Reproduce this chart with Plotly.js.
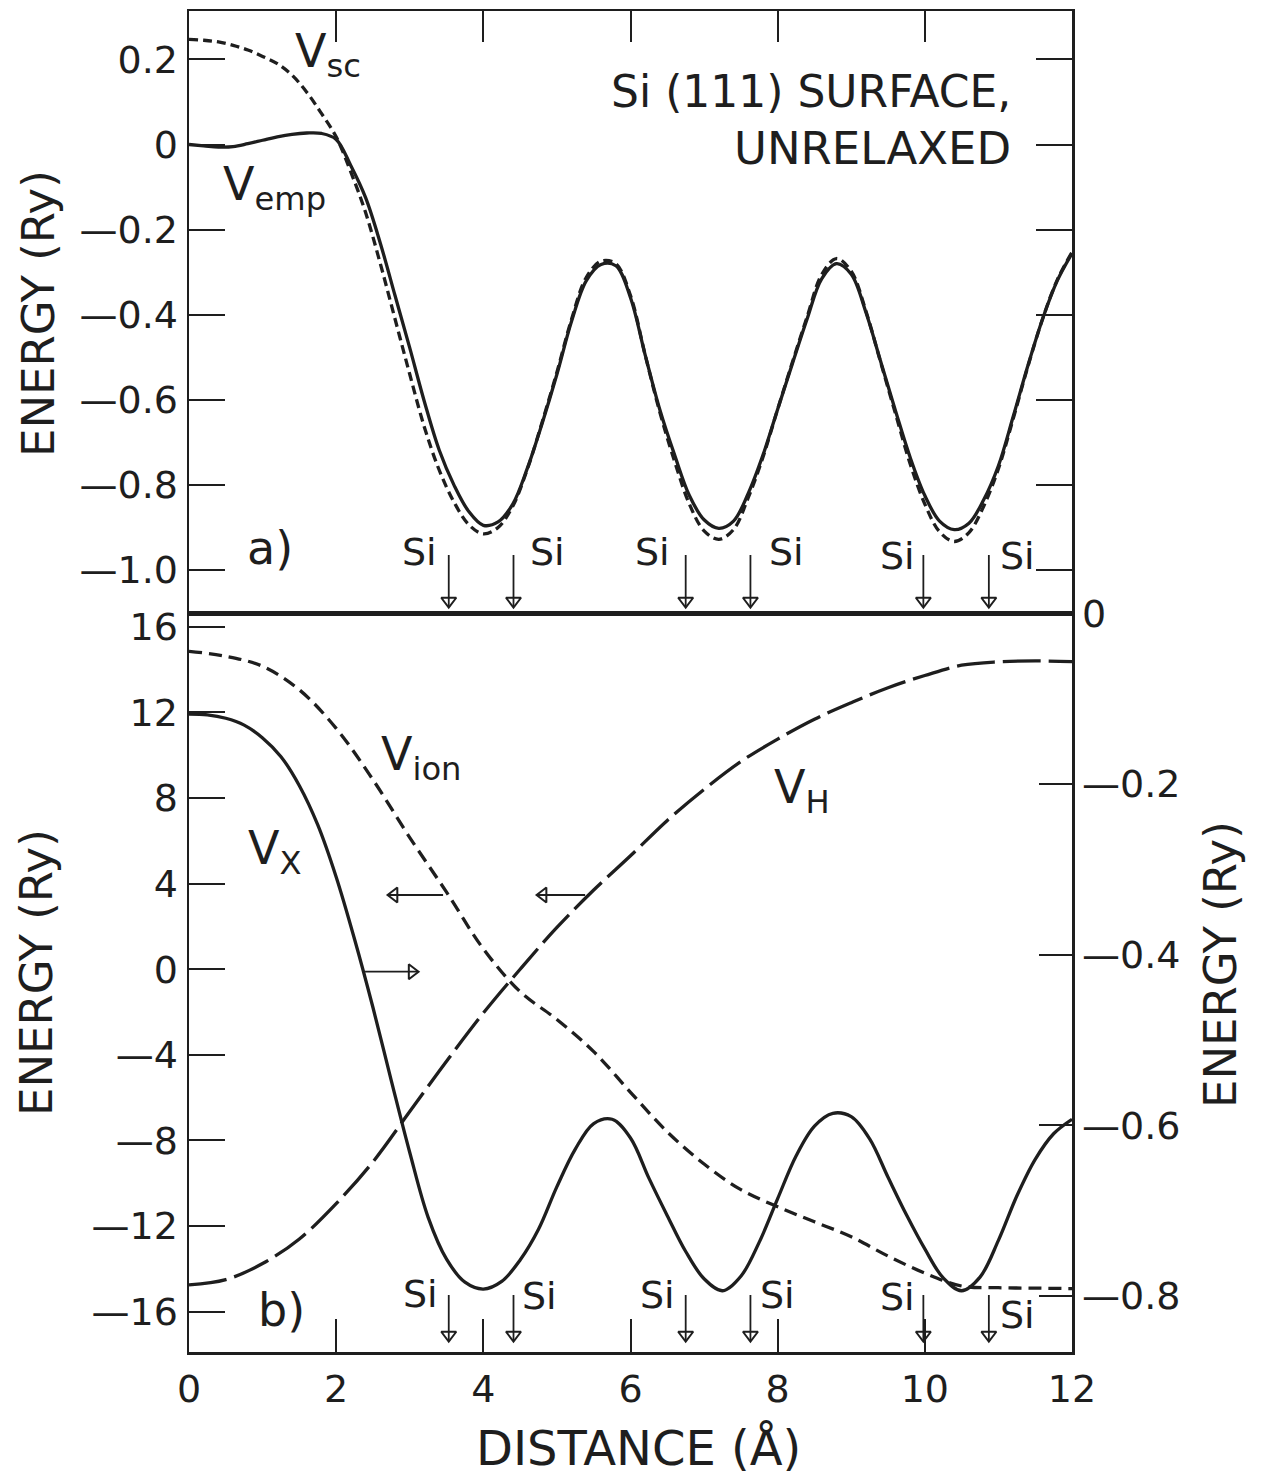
<!DOCTYPE html>
<html><head><meta charset="utf-8">
<script src="https://cdn.plot.ly/plotly-3.0.1.min.js"></script>
<style>html,body{margin:0;padding:0;background:#fff}</style>
</head><body>
<div id="chart" style="width:1266px;height:1480px"></div>
<script>
// ---------- data ----------
const X_A = [0,0.2,0.4,0.6,0.8,1,1.2,1.4,1.6,1.8,2,2.2,2.4,2.6,2.8,3,3.2,3.4,3.6,3.8,4,4.2,4.4,4.6,4.8,5,5.2,5.4,5.6,5.8,6,6.2,6.4,6.6,6.8,7,7.2,7.4,7.6,7.8,8,8.2,8.4,8.6,8.8,9,9.2,9.4,9.6,9.8,10,10.2,10.4,10.6,10.8,11,11.2,11.4,11.6,11.8,12];
const V_EMP = [0.000,-0.003,-0.006,-0.005,0.002,0.010,0.018,0.024,0.027,0.026,0.012,
  -0.050,-0.125,-0.232,-0.355,-0.478,-0.605,-0.718,-0.800,-0.862,-0.895,
  -0.887,-0.845,-0.760,-0.655,-0.540,-0.415,-0.320,-0.282,-0.285,-0.360,
  -0.495,-0.624,-0.730,-0.825,-0.882,-0.902,-0.885,-0.820,-0.730,-0.622,
  -0.515,-0.410,-0.315,-0.280,-0.305,-0.395,-0.510,-0.625,-0.735,-0.825,
  -0.885,-0.905,-0.890,-0.835,-0.755,-0.640,-0.520,-0.410,-0.320,-0.256];
const V_SC = [0.247,0.245,0.241,0.233,0.222,0.207,0.190,0.163,0.123,0.073,0.018,
  -0.065,-0.160,-0.280,-0.410,-0.540,-0.665,-0.765,-0.840,-0.893,-0.915,
  -0.900,-0.850,-0.762,-0.652,-0.535,-0.410,-0.312,-0.274,-0.280,-0.355,
  -0.495,-0.630,-0.745,-0.845,-0.908,-0.928,-0.905,-0.830,-0.735,-0.622,
  -0.512,-0.405,-0.305,-0.268,-0.298,-0.392,-0.512,-0.632,-0.750,-0.845,
  -0.910,-0.933,-0.912,-0.850,-0.762,-0.645,-0.522,-0.410,-0.318,-0.253];

const X_B = [0,0.5,1,1.5,2,2.5,3,3.5,4,4.5,5,5.5,6,6.5,7,7.5,8,8.5,9,9.5,10,10.5,11,11.5,12];
const V_ION = [14.85,14.62,14.15,13.05,11.25,8.85,6.15,3.6,0.95,-1.05,-2.35,-3.85,-5.75,-7.6,-9.1,-10.3,-11.1,-11.8,-12.5,-13.4,-14.2,-14.8,-14.88,-14.9,-14.92];
const V_HARTREE = [-14.75,-14.5,-13.75,-12.6,-10.95,-9.0,-6.65,-4.3,-2.05,0.0,1.95,3.7,5.3,6.95,8.4,9.7,10.75,11.68,12.45,13.15,13.72,14.2,14.36,14.4,14.37];

const X_X = [0,0.25,0.5,0.75,1,1.25,1.5,1.75,2,2.25,2.5,2.75,3,3.25,3.5,3.75,4,4.25,4.5,4.75,5,5.25,5.5,5.75,6,6.25,6.5,6.75,7,7.25,7.5,7.75,8,8.25,8.5,8.75,9,9.25,9.5,9.75,10,10.25,10.5,10.75,11,11.25,11.5,11.75,12];
const V_XC = [-0.118,-0.119,-0.123,-0.131,-0.146,-0.168,-0.202,-0.248,-0.309,
  -0.382,-0.462,-0.548,-0.632,-0.708,-0.757,-0.784,-0.792,
  -0.783,-0.758,-0.722,-0.672,-0.628,-0.598,-0.593,-0.615,
  -0.662,-0.706,-0.748,-0.780,-0.794,-0.777,-0.737,-0.686,
  -0.636,-0.601,-0.586,-0.590,-0.616,-0.661,-0.705,-0.745,
  -0.779,-0.794,-0.778,-0.735,-0.683,-0.640,-0.610,-0.593];

const SI_POS = [3.53, 4.41, 6.75, 7.63, 9.98, 10.87];
const SI_LABEL = 'Si';

const X_TICKS = [0,2,4,6,8,10,12];
const X_TICKTEXT = ['0','2','4','6','8','10','12'];
const TOP_X_TICKS = [2,4,6,8,10];
const TOP_TICKS = [0.2,0,-0.2,-0.4,-0.6,-0.8,-1.0];
const TOP_TICKTEXT = ['0.2','0','\u20140.2','\u20140.4','\u20140.6','\u20140.8','\u20141.0'];
const LEFT_TICKS = [16,12,8,4,0,-4,-8,-12,-16];
const LEFT_TICKTEXT = ['16','12','8','4','0','\u20144','\u20148','\u201412','\u201416'];
const RIGHT_TICKS = [0,-0.2,-0.4,-0.6,-0.8];
const RIGHT_TICKTEXT = ['0','\u20140.2','\u20140.4','\u20140.6','\u20140.8'];
const RIGHT_MINOR_TICKS = [-0.1,-0.3,-0.5,-0.7];

const TITLE_Y = 'ENERGY (Ry)';
const TITLE_X = 'DISTANCE (\u00C5)';
const PANEL_TEXT = ['Si (111) SURFACE,', 'UNRELAXED'];

// ---------- style ----------
const INK = '#1e1e1e';
const FONT = '"DejaVu Sans", sans-serif';
const LW = 3.3;

// frame geometry (pixels)
const W = 1266, H = 1480;
const L = 189, R = 1072, T = 11, MID = 613, B = 1352;
const plotH = B - T;
const splitFrac = (B - MID) / plotH;
// pixel -> axis value helpers (calibrated on the reference ticks)
const pyTop = (py) => (144.5 - py) / 425.5;
const pyLeft = (py) => (969.2 - py) / 21.406;
const pxX = (px) => (px - L) / 73.56;
const RIGHT_RANGE = [-(B - 612.6) / 854, 0.0004];

const traces = [
  {x: X_A, y: V_SC, xaxis: 'x2', yaxis: 'y2', mode: 'lines', name: 'Vsc',
   line: {color: INK, width: LW, dash: '9px,5px', shape: 'spline'}},
  {x: X_A, y: V_EMP, xaxis: 'x2', yaxis: 'y2', mode: 'lines', name: 'Vemp',
   line: {color: INK, width: LW, shape: 'spline'}},
  {x: X_B, y: V_ION, xaxis: 'x', yaxis: 'y', mode: 'lines', name: 'Vion',
   line: {color: INK, width: LW, dash: '13px,7px', shape: 'spline'}},
  {x: X_B, y: V_HARTREE, xaxis: 'x', yaxis: 'y', mode: 'lines', name: 'VH',
   line: {color: INK, width: LW, dash: '38px,8px', shape: 'spline'}},
  {x: X_X, y: V_XC, xaxis: 'x', yaxis: 'y3', mode: 'lines', name: 'VX',
   line: {color: INK, width: LW, shape: 'spline'}}
];

// Si position arrows (vertical) drawn as line traces + open triangle heads
function siArrows(xa, ya, tailY, tipY, headY) {
  const lx = [], ly = [], hx = [], hy = [];
  SI_POS.forEach(p => { lx.push(p, p, null); ly.push(tailY, tipY, null); hx.push(p); hy.push(headY); });
  traces.push({x: lx, y: ly, xaxis: xa, yaxis: ya, mode: 'lines', line: {color: INK, width: 1.8}, hoverinfo: 'skip'});
  traces.push({x: hx, y: hy, xaxis: xa, yaxis: ya, mode: 'markers', hoverinfo: 'skip',
    marker: {symbol: 'triangle-down-open', size: 13, color: INK, line: {color: INK, width: 2}}});
}
siArrows('x2', 'y2', pyTop(555), pyTop(607), pyTop(601));
siArrows('x', 'y', pyLeft(1295), pyLeft(1341), pyLeft(1335));

// axis-assignment arrows (horizontal)
function hArrow(pxTail, pxHead, py, sym) {
  const headOff = sym === 'triangle-left-open' ? 6 : -6;
  traces.push({x: [pxX(pxTail), pxX(pxHead)], y: [pyLeft(py), pyLeft(py)], xaxis: 'x', yaxis: 'y',
    mode: 'lines', line: {color: INK, width: 1.8}, hoverinfo: 'skip'});
  traces.push({x: [pxX(pxHead + headOff)], y: [pyLeft(py)], xaxis: 'x', yaxis: 'y', mode: 'markers', hoverinfo: 'skip',
    marker: {symbol: sym, size: 13, color: INK, line: {color: INK, width: 2}}});
}
hArrow(443, 388, 895, 'triangle-left-open');
hArrow(585, 537, 895, 'triangle-left-open');
hArrow(365, 418, 971.7, 'triangle-right-open');

const axisCommon = {
  showgrid: false, zeroline: false, showline: true, linecolor: INK, linewidth: 2.5,
  ticks: 'inside', tickcolor: INK, tickwidth: 2, color: INK,
  tickfont: {family: FONT, size: 38, color: INK}, fixedrange: true
};

const ann = [];
const txt = (o) => ann.push(Object.assign({showarrow: false, font: {family: FONT, size: 46, color: INK}}, o));

// curve labels
txt({xref: 'x2', yref: 'y2', x: 1.41, y: 0.212, xanchor: 'left', yanchor: 'middle', text: 'V<sub>sc</sub>'});
txt({xref: 'x2', yref: 'y2', x: 0.44, y: -0.10, xanchor: 'left', yanchor: 'middle', text: 'V<sub>emp</sub>'});
txt({xref: 'x', yref: 'y', x: 2.58, y: 9.87, xanchor: 'left', yanchor: 'middle', text: 'V<sub>ion</sub>'});
txt({xref: 'x', yref: 'y', x: 0.78, y: 5.52, xanchor: 'left', yanchor: 'middle', text: 'V<sub>X</sub>'});
txt({xref: 'x', yref: 'y', x: 7.92, y: 8.37, xanchor: 'left', yanchor: 'middle', text: 'V<sub>H</sub>'});
// panel texts
txt({xref: 'x2', yref: 'y2', x: 11.2, y: pyTop(91), xanchor: 'right', yanchor: 'middle', text: PANEL_TEXT[0], font: {family: FONT, size: 44, color: INK}});
txt({xref: 'x2', yref: 'y2', x: 11.2, y: pyTop(148), xanchor: 'right', yanchor: 'middle', text: PANEL_TEXT[1], font: {family: FONT, size: 45, color: INK}});
txt({xref: 'x2', yref: 'y2', x: 1.10, y: pyTop(548), xanchor: 'center', yanchor: 'middle', text: 'a)'});
txt({xref: 'x', yref: 'y', x: 1.26, y: pyLeft(1310), xanchor: 'center', yanchor: 'middle', text: 'b)'});

// Si labels
const siTopX = [3.13, 4.87, 6.30, 8.12, 9.63, 11.26];
const siTopPy = [552, 552, 552, 552, 556, 556];
const siBotX = [3.14, 4.77, 6.37, 8.00, 9.63, 11.26];
const siBotPy = [1294, 1296, 1295, 1295, 1297, 1315];
SI_POS.forEach((p, i) => {
  txt({xref: 'x2', yref: 'y2', x: siTopX[i], y: pyTop(siTopPy[i]), text: SI_LABEL, font: {family: FONT, size: 38, color: INK}});
  txt({xref: 'x', yref: 'y', x: siBotX[i], y: pyLeft(siBotPy[i]), text: SI_LABEL, font: {family: FONT, size: 38, color: INK}});
});

// axis titles (paper coordinates computed from pixel centres)
const px2fx = (px) => (px - L) / (R - L);
const py2fy = (py) => (B - py) / plotH;
const titleFont = {family: FONT, size: 45, color: INK};
ann.push({xref: 'paper', yref: 'paper', x: px2fx(39), y: py2fy(314), text: TITLE_Y, textangle: -90, showarrow: false, font: titleFont, xanchor: 'center', yanchor: 'middle'});
ann.push({xref: 'paper', yref: 'paper', x: px2fx(36), y: py2fy(973), text: TITLE_Y, textangle: -90, showarrow: false, font: titleFont, xanchor: 'center', yanchor: 'middle'});
ann.push({xref: 'paper', yref: 'paper', x: px2fx(1220), y: py2fy(965), text: TITLE_Y, textangle: -90, showarrow: false, font: titleFont, xanchor: 'center', yanchor: 'middle'});
ann.push({xref: 'paper', yref: 'paper', x: px2fx(638), y: py2fy(1448), text: TITLE_X, showarrow: false, font: {family: FONT, size: 48, color: INK}, xanchor: 'center', yanchor: 'middle'});

const layout = {
  width: W, height: H,
  margin: {l: L, r: W - R, t: T, b: H - B, pad: 0},
  paper_bgcolor: '#fff', plot_bgcolor: '#fff',
  showlegend: false,
  xaxis: Object.assign({}, axisCommon, {
    domain: [0, 1], range: [0, 12], anchor: 'y', side: 'bottom', mirror: true,
    tickvals: X_TICKS, ticktext: X_TICKTEXT, ticklen: 33, ticklabelstandoff: 2}),
  yaxis: Object.assign({}, axisCommon, {
    domain: [0, splitFrac], range: [pyLeft(B), pyLeft(MID)], anchor: 'x',
    mirror: true, tickvals: LEFT_TICKS, ticktext: LEFT_TICKTEXT, ticklen: 36, ticklabelstandoff: 1}),
  yaxis3: Object.assign({}, axisCommon, {
    overlaying: 'y', side: 'right', anchor: 'x', range: RIGHT_RANGE,
    tickvals: RIGHT_TICKS, ticktext: RIGHT_TICKTEXT, ticklen: 33, ticklabelstandoff: 0}),
  yaxis4: Object.assign({}, axisCommon, {
    overlaying: 'y', side: 'right', anchor: 'x', range: RIGHT_RANGE, showline: false,
    tickvals: RIGHT_MINOR_TICKS, showticklabels: false, ticklen: 33}),
  xaxis2: Object.assign({}, axisCommon, {
    domain: [0, 1], range: [0, 12], anchor: 'y2', side: 'top', mirror: true,
    tickvals: TOP_X_TICKS, showticklabels: false, ticklen: 31}),
  yaxis2: Object.assign({}, axisCommon, {
    domain: [splitFrac, 1], range: [pyTop(MID), pyTop(T)], anchor: 'x2',
    mirror: 'ticks', tickvals: TOP_TICKS, ticktext: TOP_TICKTEXT, ticklen: 36, ticklabelstandoff: 1}),
  annotations: ann
};

Plotly.newPlot('chart', traces, layout, {displayModeBar: false, staticPlot: true});
</script>
</body></html>
